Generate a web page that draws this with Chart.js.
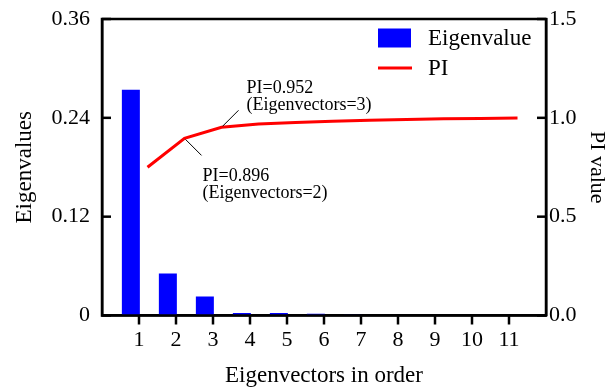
<!DOCTYPE html>
<html>
<head>
<meta charset="utf-8">
<script src="https://cdn.jsdelivr.net/npm/chart.js@4/dist/chart.umd.min.js"></script>
<style>
  body { margin: 0; background: #fff; }
  #wrap { width: 608px; height: 390px; }
</style>
</head>
<body>
<div id="wrap"><canvas id="pca" width="608" height="390"></canvas></div>
<script>
// 固有ベクトル番号
const components = [1, 2, 3, 4, 5, 6, 7, 8, 9, 10, 11];
// 固有値（棒）
const eigenvalues = [0.274, 0.051, 0.023, 0.003, 0.003, 0.002, 0.001, 0.0004, 0.0003, 0.0002, 0.0001];
// PI値（折れ線）
const piValues = [0.75, 0.896, 0.952, 0.969, 0.976, 0.983, 0.988, 0.992, 0.995, 0.997, 0.999];
// 注記
const notes = [
  { index: 2, lines: ["PI=0.952", "(Eigenvectors=3)"], dir: "up" },
  { index: 1, lines: ["PI=0.896", "(Eigenvectors=2)"], dir: "down" },
];

const serif = "'Liberation Serif', 'Times New Roman', serif";

// 枠と目盛り（y軸は内向き、x軸は外向き）
const framePlugin = {
  id: "frame",
  afterDraw(chart) {
    const { ctx, chartArea: a } = chart;
    ctx.save();
    ctx.strokeStyle = "#000";
    ctx.lineWidth = 2.5;
    ctx.strokeRect(a.left, a.top, a.right - a.left, a.bottom - a.top);
    ["y", "y1"].forEach((id) => {
      const s = chart.scales[id];
      const left = id === "y";
      s.ticks.forEach((t) => {
        const py = s.getPixelForValue(t.value);
        ctx.beginPath();
        ctx.moveTo(left ? a.left : a.right, py);
        ctx.lineTo(left ? a.left + 9 : a.right - 9, py);
        ctx.stroke();
      });
    });
    const sx = chart.scales.x;
    sx.ticks.forEach((t) => {
      const px = sx.getPixelForValue(t.value);
      ctx.beginPath();
      ctx.moveTo(px, a.bottom);
      ctx.lineTo(px, a.bottom + 9);
      ctx.stroke();
    });
    ctx.restore();
  },
};

// 凡例（グラフ内右上）
const legendPlugin = {
  id: "innerLegend",
  afterDraw(chart) {
    const { ctx, chartArea: a } = chart;
    const x0 = a.right - 168;
    let y = a.top + 19;
    ctx.save();
    ctx.font = "23px " + serif;
    ctx.textBaseline = "middle";
    chart.data.datasets.forEach((ds) => {
      if (ds.type === "bar") {
        ctx.fillStyle = ds.backgroundColor;
        ctx.fillRect(x0, y - 9.5, 33, 19);
      } else {
        ctx.strokeStyle = ds.borderColor;
        ctx.lineWidth = ds.borderWidth;
        ctx.beginPath();
        ctx.moveTo(x0, y);
        ctx.lineTo(x0 + 34, y);
        ctx.stroke();
      }
      ctx.fillStyle = "#000";
      ctx.fillText(ds.label, x0 + 50, y + 1);
      y += 30;
    });
    ctx.restore();
  },
};

// PI値の注記
const notePlugin = {
  id: "notes",
  afterDraw(chart) {
    const { ctx } = chart;
    const meta = chart.getDatasetMeta(1);
    ctx.save();
    ctx.strokeStyle = "#000";
    ctx.lineWidth = 1;
    ctx.fillStyle = "#000";
    ctx.font = "18px " + serif;
    ctx.textBaseline = "alphabetic";
    notes.forEach((n) => {
      const p = meta.data[n.index];
      const s = n.dir === "up" ? -1 : 1;
      ctx.beginPath();
      ctx.moveTo(p.x + 1, p.y + s * 1);
      ctx.lineTo(p.x + 17, p.y + s * 17);
      ctx.stroke();
      const tx = n.dir === "up" ? p.x + 25 : p.x + 18;
      const base = n.dir === "up" ? p.y - 34 : p.y + 43;
      n.lines.forEach((line, i) => ctx.fillText(line, tx, base + i * 17));
    });
    ctx.restore();
  },
};

const noPad = (s) => {
  s.paddingTop = 0;
  s.paddingBottom = 0;
  s.paddingLeft = 0;
  s.paddingRight = 0;
};

new Chart(document.getElementById("pca"), {
  data: {
    datasets: [
      {
        type: "bar",
        label: "Eigenvalue",
        data: components.map((c, i) => ({ x: c, y: eigenvalues[i] })),
        backgroundColor: "#0000ff",
        borderWidth: 0,
        grouped: false,
        maxBarThickness: 18,
        xAxisID: "xb",
        yAxisID: "y",
      },
      {
        type: "line",
        label: "PI",
        data: components.map((c, i) => ({ x: c, y: piValues[i] })),
        borderColor: "#ff0000",
        borderWidth: 3,
        pointRadius: 0,
        tension: 0,
        fill: false,
        xAxisID: "xl",
        yAxisID: "y1",
      },
    ],
  },
  options: {
    responsive: false,
    animation: false,
    devicePixelRatio: 1,
    layout: { padding: { top: 19, left: 0, right: 0, bottom: 0 } },
    plugins: {
      legend: { display: false },
      tooltip: { enabled: false },
    },
    scales: {
      x: {
        type: "linear",
        position: "bottom",
        min: 0,
        max: 12,
        offset: false,
        afterBuildTicks: (s) => {
          s.ticks = components.map((v) => ({ value: v }));
        },
        afterFit: (s) => {
          s.height = 74.5;
          noPad(s);
        },
        grid: { display: false, drawTicks: false },
        border: { display: true, color: "#000", width: 2.5 },
        ticks: {
          color: "#000",
          font: { family: serif, size: 22 },
          padding: 12,
          maxRotation: 0,
          autoSkip: false,
        },
        title: {
          display: true,
          text: "Eigenvectors in order",
          color: "#000",
          font: { family: serif, size: 23, lineHeight: 1 },
          padding: { top: 0, bottom: 3 },
        },
      },
      xb: { type: "linear", display: false, offset: false, grid: { offset: false }, min: 0.22, max: 12.22 },
      xl: { type: "linear", display: false, offset: false, grid: { offset: false }, min: -0.23, max: 11.77 },
      y: {
        position: "left",
        min: 0,
        max: 0.36,
        afterBuildTicks: (s) => {
          s.ticks = [0, 0.12, 0.24, 0.36].map((v) => ({ value: v }));
        },
        afterFit: (s) => {
          s.width = 102;
          noPad(s);
        },
        grid: { display: false, drawTicks: false },
        border: { display: true, color: "#000", width: 2.5 },
        ticks: {
          color: "#000",
          font: { family: serif, size: 22 },
          padding: 12,
          callback: (v) => (v === 0 ? "0" : String(+v.toFixed(2))),
        },
        title: {
          display: true,
          text: "Eigenvalues",
          color: "#000",
          font: { family: serif, size: 23, lineHeight: 1 },
          padding: { top: 13, bottom: 0 },
        },
      },
      y1: {
        position: "right",
        min: 0,
        max: 1.5,
        afterBuildTicks: (s) => {
          s.ticks = [0, 0.5, 1.0, 1.5].map((v) => ({ value: v }));
        },
        afterFit: (s) => {
          s.width = 62;
          noPad(s);
        },
        grid: { display: false, drawTicks: false },
        border: { display: true, color: "#000", width: 2.5 },
        ticks: {
          color: "#000",
          font: { family: serif, size: 22 },
          padding: 3,
          callback: (v) => v.toFixed(1),
        },
        title: {
          display: true,
          text: "PI value",
          color: "#000",
          font: { family: serif, size: 22, lineHeight: 1 },
          padding: { top: 0, bottom: 0 },
        },
      },
    },
  },
  plugins: [framePlugin, legendPlugin, notePlugin],
});
</script>
</body>
</html>
